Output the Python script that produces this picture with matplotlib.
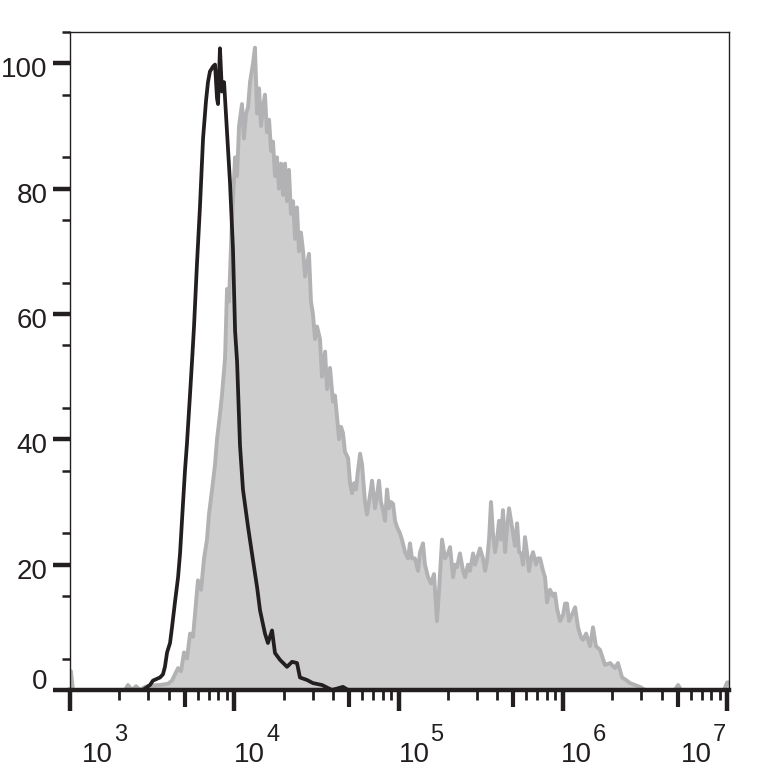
import numpy as np
import matplotlib.pyplot as plt
from matplotlib.transforms import ScaledTranslation

plt.rcParams['font.family'] = ['Liberation Sans', 'DejaVu Sans']

# grey filled histogram (log10 of intensity, % of max)
grey_log = [3.000, 3.006, 3.018, 3.335, 3.353, 3.377, 3.402, 3.426, 3.457, 3.487,
            3.548, 3.597, 3.621, 3.639, 3.658, 3.676, 3.694, 3.712, 3.731, 3.749,
            3.767, 3.779, 3.798, 3.816, 3.834, 3.846, 3.865, 3.883, 3.895, 3.913,
            3.925, 3.944, 3.956, 3.968, 3.986, 4.005, 4.017, 4.029, 4.047, 4.059,
            4.072, 4.084, 4.096, 4.114, 4.126, 4.139, 4.151, 4.163, 4.175, 4.187,
            4.199, 4.212, 4.224, 4.236, 4.248, 4.260, 4.272, 4.285, 4.297, 4.309,
            4.321, 4.333, 4.345, 4.358, 4.370, 4.382, 4.394, 4.406, 4.419, 4.431,
            4.443, 4.455, 4.467, 4.479, 4.492, 4.504, 4.522, 4.534, 4.553, 4.565,
            4.583, 4.601, 4.613, 4.626, 4.638, 4.650, 4.662, 4.674, 4.693, 4.705,
            4.717, 4.729, 4.741, 4.753, 4.766, 4.778, 4.796, 4.808, 4.826, 4.839,
            4.857, 4.869, 4.881, 4.893, 4.906, 4.918, 4.930, 4.942, 4.954, 4.967,
            4.979, 4.991, 5.009, 5.021, 5.040, 5.058, 5.070, 5.082, 5.100, 5.119,
            5.131, 5.149, 5.161, 5.180, 5.198, 5.216, 5.234, 5.247, 5.265, 5.283,
            5.301, 5.314, 5.332, 5.344, 5.356, 5.374, 5.393, 5.405, 5.423, 5.435,
            5.454, 5.466, 5.478, 5.496, 5.514, 5.527, 5.539, 5.551, 5.563, 5.575,
            5.588, 5.600, 5.612, 5.624, 5.636, 5.649, 5.661, 5.673, 5.685, 5.697,
            5.709, 5.722, 5.734, 5.746, 5.758, 5.770, 5.782, 5.795, 5.807, 5.819,
            5.837, 5.849, 5.862, 5.880, 5.892, 5.904, 5.922, 5.941, 5.953, 5.965,
            5.983, 6.002, 6.014, 6.026, 6.038, 6.056, 6.075, 6.093, 6.111, 6.123,
            6.142, 6.166, 6.184, 6.202, 6.227, 6.257, 6.288, 6.318, 6.336, 6.361,
            6.385, 6.409, 6.440, 6.470, 6.501, 6.683, 6.702, 6.720, 6.982, 7.000,
            7.012]
grey_pct = [0, 3, 0, 0, 0.8, 0, 0.6, 0, 0.5, 0.7,
            0.8, 1.0, 1.5, 2.5, 3.5, 3.0, 6, 5, 9, 8.5,
            14, 17.5, 16, 21, 24, 28, 32, 36, 40, 44,
            47, 53, 64, 62, 75, 85, 82, 90, 93.5, 88,
            92, 93, 97, 100, 102.5, 92, 96, 90, 93, 95,
            89, 91, 86, 87.5, 82, 85, 80, 84, 79, 84,
            78, 83, 76, 78, 72, 77, 70, 73, 70, 66,
            68, 69.6, 62, 60, 56, 58, 56, 50, 54, 48,
            51.4, 46, 47, 43.5, 40, 42, 41, 38, 37, 33,
            31.4, 33, 32, 35, 37.7, 36, 30, 28, 31, 33.4,
            29, 31, 33.4, 30, 28.7, 27, 32, 29, 30, 29.7,
            27, 26, 25, 24, 22, 21, 23.4, 21, 21, 19,
            22, 23.4, 20, 18, 17, 18.5, 11, 16, 24, 21,
            21.8, 22.8, 18, 20, 19.6, 21.8, 19, 18, 20, 19,
            21.8, 20, 21, 22.6, 21, 19, 20.7, 24, 30, 25,
            22, 24, 27, 24, 28.7, 22, 26, 29, 27, 25,
            23, 26.6, 22, 21.8, 20, 24.4, 22, 19, 21, 22,
            20, 21, 21, 19, 18, 14, 16, 15, 15.4, 13,
            11, 12, 13.8, 13.8, 11, 12, 13.2, 10, 8.4, 8,
            9, 7, 10, 7, 6.4, 4, 4.3, 3.5, 4.3, 2,
            1.6, 1.1, 0.8, 0.5, 0, 0, 0.8, 0, 0, 1.2,
            1.2]

# black outline histogram (control)
black_log = [3.000, 3.444, 3.487, 3.505, 3.548, 3.566, 3.578, 3.591, 3.609, 3.621,
             3.639, 3.658, 3.670, 3.688, 3.700, 3.712, 3.731, 3.743, 3.755, 3.773,
             3.791, 3.810, 3.828, 3.840, 3.852, 3.871, 3.883, 3.895, 3.901, 3.913,
             3.925, 3.938, 3.956, 3.974, 3.992, 4.005, 4.017, 4.035, 4.053, 4.084,
             4.114, 4.139, 4.157, 4.187, 4.205, 4.230, 4.248, 4.279, 4.321, 4.352,
             4.382, 4.400, 4.443, 4.479, 4.534, 4.595, 4.662, 4.693, 7.012]
black_pct = [0, 0, 0.8, 1.5, 2, 2.5, 3.7, 6, 7.5, 10,
             14, 18, 21.8, 29.8, 35, 39.3, 47.3, 52.5, 58, 68,
             77, 88, 94, 97, 98.7, 99.5, 99.8, 94.4, 93.5, 102.4,
             95.5, 97, 89, 81, 70.5, 57.3, 52.5, 39, 32, 26,
             20.7, 16.4, 12.7, 9, 7.5, 9.5, 5.9, 4.8, 3.7, 4.5,
             4.3, 2, 1.6, 1.1, 0.8, 0, 0.5, 0, 0]

y_ticks = [0, 20, 40, 60, 80, 100]
decades = [3, 4, 5, 6, 7]
# horizontal shift of each decade label (pixels)
label_shift = [12, 0, 0, -2, -46]

dark = '#231f20'

fig = plt.figure(figsize=(7.64, 7.80), dpi=100)
ax = fig.add_axes([70 / 764, 90 / 780, 659 / 764, 658 / 780])

gx = 10 ** np.array(grey_log)
bx = 10 ** np.array(black_log)
ax.fill_between(gx, grey_pct, 0, color='#cecece', lw=0, zorder=1)
ax.plot(gx, grey_pct, color='#b2b2b4', lw=2.8, zorder=2)
ax.plot(bx, black_pct, color=dark, lw=2.7, zorder=3)

ax.set_xscale('log')
ax.set_xlim(1e3, 10 ** 7.012)
ax.set_ylim(0, 104.8)

for s in ['top', 'right', 'left']:
    ax.spines[s].set_linewidth(1.0)
    ax.spines[s].set_color(dark)
ax.spines['bottom'].set_linewidth(3.2)
ax.spines['bottom'].set_color(dark)

ax.set_xticks([10.0 ** d for d in decades])
ax.xaxis.set_minor_locator(plt.matplotlib.ticker.LogLocator(base=10, subs=[2, 3, 4, 6, 7, 8, 9], numticks=20))
ax.tick_params(axis='x', which='major', length=15, width=3.2, color=dark, labelbottom=False)
ax.tick_params(axis='x', which='minor', length=7, width=2.0, color=dark, labelbottom=False)

# medium ticks at 5 x 10^n
sec = ax.secondary_xaxis('bottom')
sec.set_xticks([5e3, 5e4, 5e5, 5e6])
sec.xaxis.set_minor_locator(plt.matplotlib.ticker.NullLocator())
sec.tick_params(axis='x', length=12, width=3.0, color=dark, labelbottom=False)
sec.spines['bottom'].set_visible(False)

ax.set_yticks(y_ticks)
ax.set_yticks(np.arange(5, 106, 10), minor=True)
ax.set_yticklabels([str(v) for v in y_ticks])
ax.tick_params(axis='y', which='major', length=12, width=3.2, color=dark,
               labelsize=20, labelcolor=dark, pad=4)
ax.tick_params(axis='y', which='minor', length=6, width=1.8, color=dark)


def px(dx, dy):
    return ScaledTranslation(dx / 100, dy / 100, fig.dpi_scale_trans)


for lab, v in zip(ax.get_yticklabels(), y_ticks):
    lab.set_transform(lab.get_transform() + px(0, 11 if v == 0 else -4))

tr = ax.get_xaxis_transform()
for d, sh in zip(decades, label_shift):
    ax.text(10.0 ** d, 0, '10', transform=tr + px(sh, -72), ha='left', va='baseline',
            fontsize=20, color=dark, clip_on=False)
    ax.text(10.0 ** d, 0, str(d), transform=tr + px(sh + 32, -51), ha='left', va='baseline',
            fontsize=17, color=dark, clip_on=False)

fig.savefig('out.png', dpi=100)
